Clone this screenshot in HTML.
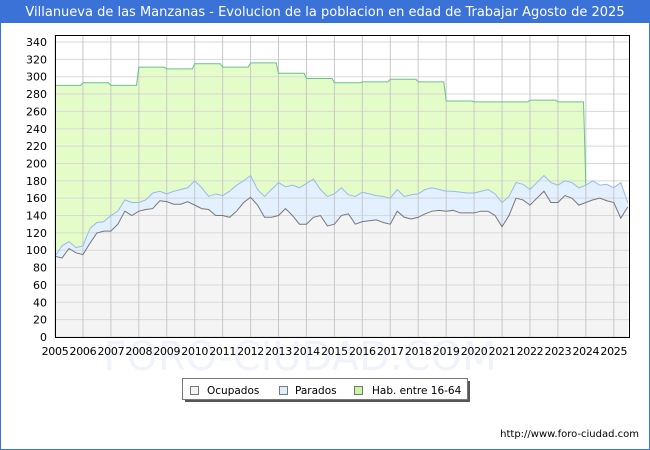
<!DOCTYPE html>
<html><head><meta charset="utf-8"><style>
body{margin:0;background:#fff;}
svg{display:block;font-family:"DejaVu Sans","Liberation Sans",sans-serif;}
</style></head><body>
<svg id="chart" width="650" height="450" xmlns="http://www.w3.org/2000/svg">
<rect x="0" y="0" width="650" height="450" fill="#fff"/>
<rect x="0.5" y="0.5" width="649" height="449" fill="none" stroke="#3a72d8"/>
<rect x="0" y="0" width="650" height="23" fill="#3a72d8"/>
<text x="325" y="16" text-anchor="middle" font-size="13" fill="#fff">Villanueva de las Manzanas - Evolucion de la poblacion en edad de Trabajar Agosto de 2025</text>
<text x="300" y="370" text-anchor="middle" font-size="40" fill="#f0f3fb">FORO-CIUDAD.COM</text>
<g id="plot"></g>
<g>
<rect x="185" y="381" width="285" height="21" fill="#555"/>
<rect x="182.5" y="378.5" width="285" height="21" fill="#fff" stroke="#777"/>
<rect x="190.5" y="386.5" width="8" height="8" fill="#f4f4f4" stroke="#777"/>
<text x="207" y="394" font-size="10.5" fill="#000">Ocupados</text>
<rect x="279.5" y="386.5" width="8" height="8" fill="#ddeeff" stroke="#777"/>
<text x="295" y="394" font-size="10.5" fill="#000">Parados</text>
<rect x="354.5" y="386.5" width="8" height="8" fill="#ccf5a0" stroke="#777"/>
<text x="372" y="394" font-size="10.5" fill="#000">Hab. entre 16-64</text>
</g>
<text x="639" y="437" text-anchor="end" font-size="10" fill="#000">http://www.foro-ciudad.com</text>
</svg>
<script>
const years = [2005,2006,2007,2008,2009,2010,2011,2012,2013,2014,2015,2016,2017,2018,2019,2020,2021,2022,2023,2024,2025];
const yTicks = [0,20,40,60,80,100,120,140,160,180,200,220,240,260,280,300,320,340];
const habYears = [2005,2006,2007,2008,2009,2010,2011,2012,2013,2014,2015,2016,2017,2018,2019,2020,2021,2022,2023];
const hab = [290,293,290,311,309,315,311,316,304,298,293,294,297,294,272,271,271,273,271];
const ocupados = [93,91,102,97, 95,108,120,122, 122,130,145,140, 145,147,148,157, 156,153,153,156, 152,148,147,140, 140,138,145,155, 161,152,138,138, 140,148,140,130, 130,138,140,128, 130,140,142,130, 133,134,135,132, 130,145,138,136, 138,142,145,146, 145,146,143,143, 143,145,145,140, 127,140,160,158, 152,160,168,155, 155,163,160,152, 155,158,160,157, 155,137,150];
const parados = [0,14,8,6, 10,17,12,11, 18,15,13,15, 10,11,18,11, 9,15,17,16, 28,24,15,25, 23,30,30,25, 25,18,24,32, 38,25,35,42, 47,44,30,34, 35,32,22,32, 34,31,28,30, 30,25,24,28, 27,28,27,24, 23,22,24,23, 23,23,25,25, 28,22,18,18, 18,18,18,23, 20,17,18,20, 20,22,15,19, 17,41,5];
const startYear = 2005, step = 0.25;

const L=55,R=630,T=35,B=337;
const xS = t => L + (t-2005)*(R-L)/20.58;
const yS = v => B - v*(B-42)/340;
const NS="http://www.w3.org/2000/svg";
const g=document.getElementById('plot');
function mk(tag,attrs){const e=document.createElementNS(NS,tag);for(const k in attrs)e.setAttribute(k,attrs[k]);g.appendChild(e);return e;}

const plotBg = mk('rect',{x:L,y:T,width:R-L,height:B-T,fill:'#fff'});



const tOf = i => startYear + i*step;
const totals = ocupados.map((v,i)=>v+parados[i]);
let hp=[];
habYears.forEach((y,i)=>{hp.push([xS(y),yS(hab[i])]);hp.push([xS(y+11/12),yS(hab[i])]);});
const endHab=2024;
const idxEnd=Math.round((endHab-startYear)/step);
hp.push([xS(endHab),yS(totals[idxEnd])]);
let habD='M'+xS(2005)+','+B+' '+hp.map(p=>'L'+p[0]+','+p[1]).join(' ')+' L'+xS(endHab)+','+B+' Z';
const habArea=mk('path',{d:habD,fill:'#e4fdc8'});



const totPts=totals.map((v,i)=>[xS(tOf(i)),yS(v)]);
const lastX=Math.min(R,xS(tOf(totals.length-1)));
const parArea=mk('path',{d:'M'+xS(2005)+','+B+' '+totPts.map(p=>'L'+p[0]+','+p[1]).join(' ')+' L'+lastX+','+B+' Z',fill:'#e2f0ff'});


const ocPts=ocupados.map((v,i)=>[xS(tOf(i)),yS(v)]);
const ocArea=mk('path',{d:'M'+xS(2005)+','+B+' '+ocPts.map(p=>'L'+p[0]+','+p[1]).join(' ')+' L'+lastX+','+B+' Z',fill:'#f4f4f4'});



yTicks.forEach(v=>{
  const ln=mk('line',{x1:L,x2:R,y1:yS(v),y2:yS(v),stroke:'#d8d8d8','stroke-width':1});
  
  
  const tx=mk('text',{x:47,y:yS(v)+4,'text-anchor':'end','font-size':11,fill:'#000'});
  tx.textContent=v;
  
  
});
years.forEach(y=>{
  const ln=mk('line',{x1:xS(y),x2:xS(y),y1:T,y2:B,stroke:'#c8c8c8','stroke-width':1});
  
  
  const tx=mk('text',{x:xS(y),y:355,'text-anchor':'middle','font-size':11,fill:'#000','letter-spacing':'-0.3'});
  tx.textContent=y;
  
  
});

const habLine=mk('polyline',{points:hp.map(p=>p.join(',')).join(' '),fill:'none',stroke:'#6cc08c','stroke-width':1});


const parLine=mk('polyline',{points:totPts.map(p=>p.join(',')).join(' '),fill:'none',stroke:'#9bb8ee','stroke-width':1});


const ocLine=mk('polyline',{points:ocPts.map(p=>p.join(',')).join(' '),fill:'none',stroke:'#777','stroke-width':1});



const border=mk('rect',{x:L+0.5,y:T+0.5,width:R-L-1,height:B-T,fill:'none',stroke:'#000','stroke-width':1});


</script>
</body></html>
